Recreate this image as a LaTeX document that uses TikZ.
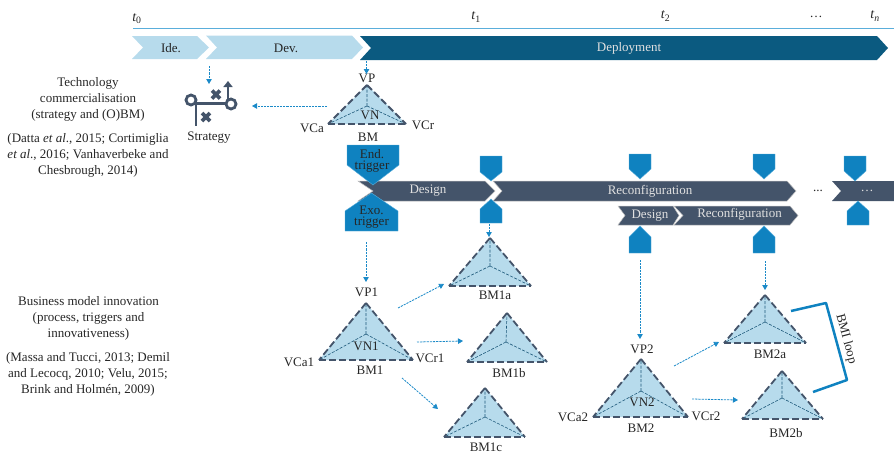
\documentclass[tikz,border=0pt]{standalone}
\usepackage{fontspec}
\setmainfont{Liberation Serif}
\usetikzlibrary{arrows.meta}
\definecolor{lightb}{HTML}{B7DBEC}
\definecolor{deep}{HTML}{0B5A80}
\definecolor{slate}{HTML}{44546A}
\definecolor{trig}{HTML}{0F82C0}
\definecolor{arr}{HTML}{1B8AC8}
\definecolor{tline}{HTML}{5AAEDB}
\tikzset{
  x=1pt,y=-1pt,
  txt/.style={font=\fontsize{13}{14}\selectfont,text=black!85,inner sep=0pt},
  lab/.style={txt},
  wtxt/.style={font=\fontsize{13}{14}\selectfont,text=white!88!black,inner sep=0pt},
  timetxt/.style={txt,font=\fontsize{14}{15}\selectfont\itshape},
  para/.style={txt,align=center,font=\fontsize{13}{16}\selectfont},
  lchev/.style={fill=lightb,draw=none},
  dchev/.style={fill=deep,draw=none},
  bar/.style={fill=slate,draw=black!25,line width=0.5pt},
  trigger/.style={fill=trig,draw=tline,line width=0.4pt},
  flow/.style={arr,line width=0.8pt,dash pattern=on 2.2pt off 1pt,-{Triangle[length=5pt,width=5.5pt]}},
  triface/.style={fill=lightb},
  triedge/.style={slate,line width=1.8pt,dash pattern=on 7pt off 3pt},
  triin/.style={deep!70!slate,line width=0.6pt,dash pattern=on 3pt off 1.5pt},
  icon/.style={slate,line width=2.8pt},
  loopline/.style={trig,line width=2.5pt,line join=round}
}
\newcommand{\bmtri}[9]{%
 \coordinate (#1-p) at (#2,#3);
 \coordinate (#1-a) at (#4,#5);
 \coordinate (#1-r) at (#6,#7);
 \coordinate (#1-n) at (#8,#9);
 \fill[triface] (#1-p)--(#1-a)--(#1-r)--cycle;
 \draw[triin] (#1-n)--(#1-p) (#1-n)--(#1-a) (#1-n)--(#1-r);
 \draw[triedge] (#1-p)--(#1-a);
 \draw[triedge] (#1-p)--(#1-r);
 \draw[triedge] (#1-a)--(#1-r);
}
\newcommand{\trigdown}[6]{\draw[trigger] (#2,#4)--(#3,#4)--(#3,#5)--({(#2+#3)/2},#6)--(#2,#5)--cycle;\coordinate (#1) at ({(#2+#3)/2},#6);}
\begin{document}
\begin{tikzpicture}
\useasboundingbox (0,0) rectangle (894,453);
% timeline
\coordinate (tl0) at (133,28.5);\coordinate (tl1) at (894,28.5);
\draw[tline,line width=0.9pt] (tl0)--(tl1);
\node[timetxt] (t0) at (137,18.5) {t\textsubscript{\upshape 0}};
\node[timetxt] (t1) at (476,17) {t\textsubscript{\upshape 1}};
\node[timetxt] (t2) at (665.5,16) {t\textsubscript{\upshape 2}};
\node[txt] (tdots) at (816,17) {…};
\node[timetxt] (tn) at (875,16) {t\textsubscript{n}};
% phases
\fill[lchev] (132,36)--(197,36)--(209,47.5)--(197,59)--(132,59)--(143,47.5)--cycle;
\node[txt] (ide) at (171,48) {Ide.};
\fill[lchev] (206,35.5)--(352,35.5)--(363,47.5)--(352,59)--(206,59)--(217,47.5)--cycle;
\node[txt] (dev) at (286,48) {Dev.};
\fill[dchev] (360,36)--(877,36)--(888,48)--(877,60)--(360,60)--(371,48)--cycle;
\node[wtxt] (dep) at (629,48) {Deployment};
% strategy icon
\draw[icon] (191,100) circle (5);
\draw[icon] (231,104) circle (5);
\draw[icon] (196,103.5)--(226,103.5);
\draw[icon] (196,104)--(196,126);
\draw[icon,-{Triangle[length=6pt,width=9pt]}] (228,100)--(228,81);
\draw[icon,line width=3.6pt] (212,90.5)--(220,98.5) (212,98.5)--(220,90.5);
\draw[icon,line width=3.6pt] (202,113)--(210,121) (202,121)--(210,113);
\node[lab] (strategy) at (209,138) {Strategy};
% triangles
\bmtri{bm}{367}{85}{328}{124}{406}{124}{367}{106}
\bmtri{bmo}{366}{303}{319}{360}{413}{360}{366}{334}
\bmtri{bma}{490}{238}{449}{286}{531}{286}{490}{266}
\bmtri{bmb}{507}{313}{467}{362}{547}{362}{506}{342}
\bmtri{bmc}{485}{388}{444}{437}{525}{437}{485}{417}
\bmtri{bmt}{641}{359}{593}{417}{688}{417}{641}{391}
\bmtri{bmta}{765}{295}{724}{343}{806}{343}{765}{322}
\bmtri{bmtb}{782}{371}{742}{419}{823}{419}{782}{398}
% triangle labels
\node[lab] (VP) at (367,78) {VP};
\node[lab] (VN) at (370,115) {VN};
\node[lab] (VCa) at (312,128) {VCa};
\node[lab] (VCr) at (423,125) {VCr};
\node[lab] (BM) at (368,137) {BM};
\node[lab] (VPo) at (366.5,292) {VP1};
\node[lab] (VNo) at (366,346) {VN1};
\node[lab] (VCao) at (299,362) {VCa1};
\node[lab] (VCro) at (430,358) {VCr1};
\node[lab] (BMo) at (370,370) {BM1};
\node[lab] (BMa) at (495,295) {BM1a};
\node[lab] (BMb) at (509,373) {BM1b};
\node[lab] (BMc) at (486,447) {BM1c};
\node[lab] (VPt) at (642,349) {VP2};
\node[lab] (VNt) at (642,402) {VN2};
\node[lab] (VCat) at (573,417) {VCa2};
\node[lab] (VCrt) at (706,416) {VCr2};
\node[lab] (BMt) at (641,428) {BM2};
\node[lab] (BMta) at (770,354) {BM2a};
\node[lab] (BMtb) at (786,433) {BM2b};
% process bars
\draw[bar] (358,181)--(485,181)--(495,191)--(485,201)--(358,201)--(373,191)--cycle;
\node[wtxt] (design) at (428,191) {Design};
\draw[bar] (493,181)--(787,181)--(796,191)--(787,201)--(493,201)--(502,191)--cycle;
\node[wtxt] (reconf) at (650,191) {Reconfiguration};
\node[txt] (bardots) at (818,191) {...};
\draw[bar,draw=none] (832,181)--(894,181)--(894,201)--(832,201)--(841,191)--cycle;
\node[wtxt] (lastdots) at (867,191) {…};
\draw[bar] (618,206)--(673,206)--(679,215.5)--(673,225)--(618,225)--(625,215.5)--cycle;
\node[wtxt] (designtwo) at (650,215.5) {Design};
\draw[bar] (674,206)--(790,206)--(798,215.5)--(790,225)--(674,225)--(683,215.5)--cycle;
\node[wtxt] (reconftwo) at (739.5,214) {Reconfiguration};
% triggers
\trigdown{tEnd}{347}{399}{145}{165}{185}
\trigdown{tExo}{345}{398}{231}{211}{193}
\node[txt,align=center,font=\fontsize{13}{10.7}\selectfont] (end) at (372,161) {End.\\trigger};
\node[txt,align=center,font=\fontsize{13}{10.7}\selectfont] (exo) at (371.5,217) {Exo.\\trigger};
\trigdown{dA}{480}{502}{156}{172}{181}
\trigdown{uA}{480}{502}{223}{209}{199}
\trigdown{dB}{629}{651}{154}{169}{179}
\trigdown{uB}{629}{651}{253}{237}{226}
\trigdown{dC}{753}{775}{154}{169}{179}
\trigdown{uC}{753}{775}{253}{237}{226}
\trigdown{dD}{844}{866}{156}{171}{181}
\trigdown{uD}{847}{869}{225}{211}{201}
% connector end points
\coordinate (aS) at (209,66);\coordinate (aE) at (209,84);
\coordinate (bS) at (366.5,61);\coordinate (bE) at (366.5,74);
\coordinate (cS) at (327,106);\coordinate (cE) at (252,106);
\coordinate (dS) at (366,242);\coordinate (dE) at (366,282);
\coordinate (eS) at (489,224);\coordinate (eE) at (489,237);
\coordinate (fS) at (398,308);\coordinate (fE) at (444,284);
\coordinate (gS) at (417,342);\coordinate (gE) at (463,341);
\coordinate (hS) at (402,378);\coordinate (hE) at (438,409);
\coordinate (iS) at (640,260);\coordinate (iE) at (640,339);
\coordinate (jS) at (765,261);\coordinate (jE) at (765,290);
\coordinate (kS) at (674,366);\coordinate (kE) at (719,342);
\coordinate (lS) at (692,399);\coordinate (lE) at (738,400);
\foreach \n in {a,b,c,d,e,f,g,h,i,j,k,l}{\draw[flow] (\n S)--(\n E);}
% BMI loop
\coordinate (la) at (791,311);\coordinate (lb) at (826,303);\coordinate (lc) at (847,380);\coordinate (ld) at (813,392);
\draw[loopline] (la)--(lb)--(lc)--(ld);
\node[txt,rotate=-75] (loop) at (846,339) {BMI loop};
% left text
\node[para] (tc) at (88,99.5) {Technology\\commercialisation\\(strategy and (O)BM)};
\node[para] (tcr) at (88,155) {(Datta \textit{et al}., 2015; Cortimiglia\\\textit{et al}., 2016; Vanhaverbeke and\\Chesbrough, 2014)};
\node[para] (bmi) at (88.5,318.5) {Business model innovation\\(process, triggers and\\innovativeness)};
\node[para] (bmir) at (88,374.5) {(Massa and Tucci, 2013; Demil\\and Lecocq, 2010; Velu, 2015;\\Brink and Holmén, 2009)};
\end{tikzpicture}
\end{document}
